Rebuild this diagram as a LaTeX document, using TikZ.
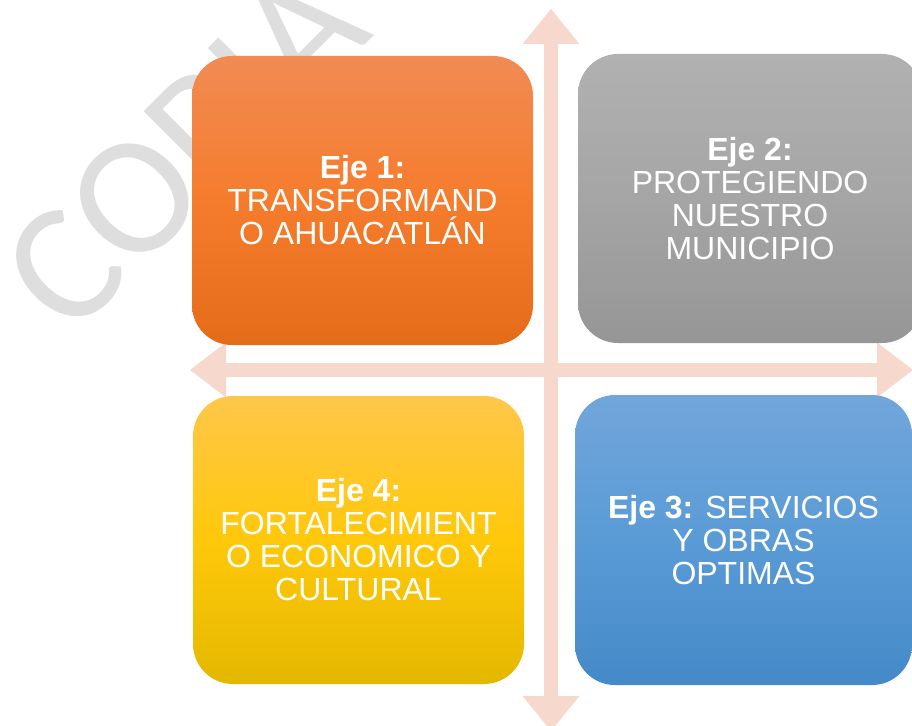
\documentclass[tikz,border=0pt]{standalone}
\usepackage{fontspec}
\setmainfont{Liberation Sans}
\newfontfamily\wmfont{Carlito}
\definecolor{arrowc}{RGB}{247,216,205}
\definecolor{wmark}{RGB}{222,222,222}
\definecolor{orT}{RGB}{241,139,84}
\definecolor{orM}{RGB}{245,124,44}
\definecolor{orB}{RGB}{228,108,25}
\definecolor{grT}{RGB}{177,177,177}
\definecolor{grM}{RGB}{165,165,165}
\definecolor{grB}{RGB}{150,150,150}
\definecolor{yeT}{RGB}{255,199,74}
\definecolor{yeM}{RGB}{255,200,10}
\definecolor{yeB}{RGB}{228,184,0}
\definecolor{blT}{RGB}{113,166,218}
\definecolor{blM}{RGB}{90,155,214}
\definecolor{blB}{RGB}{68,137,200}
\tikzset{
  ejebox/.style={rounded corners=40pt, inner sep=0pt, align=center,
    text=white, font=\fontsize{32}{33}\selectfont},
}
\begin{document}
\begin{tikzpicture}[x=1pt,y=-1pt]
\useasboundingbox (0,0) rectangle (912,725);
% watermark
\node[wmark, rotate=45, inner sep=0pt, font=\wmfont\fontsize{170}{170}\selectfont] (wm) at (184,149) {COPIA};
% axes arrows
\fill[arrowc] (544,44) -- (522.5,44) -- (551,9) -- (579.5,44) -- (558,44)
  -- (558,696) -- (579.5,696) -- (551,731) -- (522.5,696) -- (544,696) -- cycle;
\fill[arrowc] (226,363) -- (226,342.5) -- (190,370) -- (226,397.5) -- (226,377)
  -- (877,377) -- (877,397.5) -- (913,370) -- (877,342.5) -- (877,363) -- cycle;
% boxes
\node[ejebox, minimum width=341pt, minimum height=289pt,
  top color=orT, bottom color=orB, middle color=orM] (e1) at (362.5,200.5)
  {\textbf{Eje 1:}\\TRANSFORMAND\\O AHUACATLÁN};
\node[ejebox, minimum width=344pt, minimum height=289pt,
  top color=grT, bottom color=grB, middle color=grM] (e2) at (750,198.5)
  {\textbf{Eje 2:}\\PROTEGIENDO\\NUESTRO\\MUNICIPIO};
\node[ejebox, minimum width=331pt, minimum height=288pt,
  top color=yeT, bottom color=yeB, middle color=yeM] (e4) at (358.5,540)
  {\textbf{Eje 4:}\\FORTALECIMIENT\\O ECONOMICO Y\\CULTURAL};
\node[ejebox, minimum width=337pt, minimum height=290pt,
  top color=blT, bottom color=blB, middle color=blM] (e3) at (743.5,540)
  {\textbf{Eje 3:} SERVICIOS\\Y OBRAS\\OPTIMAS};
\end{tikzpicture}
\end{document}
